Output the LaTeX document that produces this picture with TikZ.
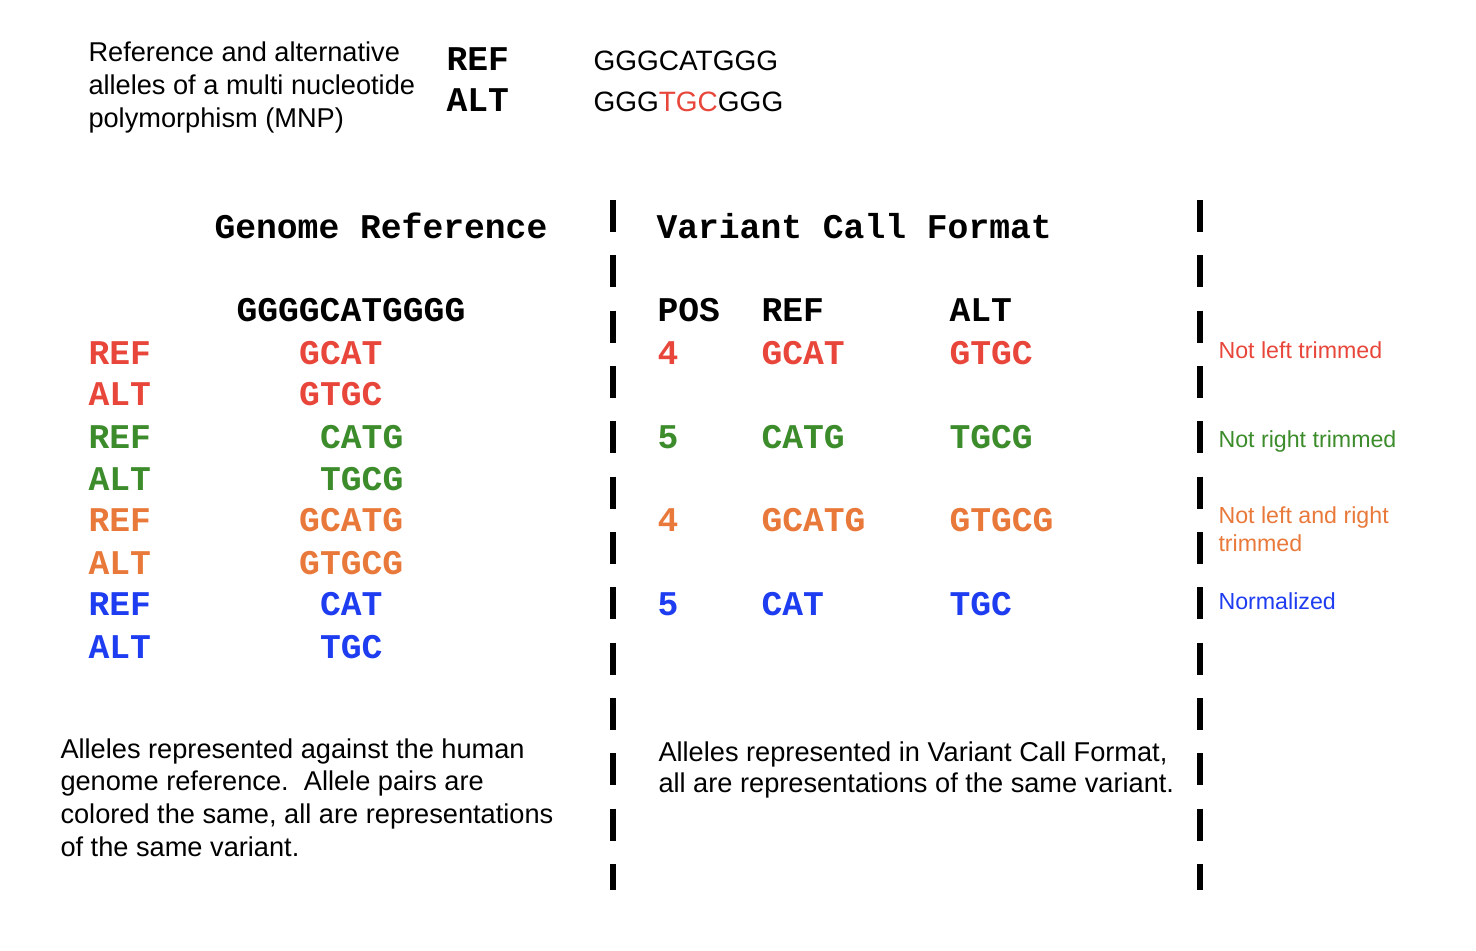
\documentclass[tikz,border=0pt]{standalone}
\usepackage{fontspec}
\setmainfont{Liberation Sans}
\setmonofont{Liberation Mono}
\definecolor{allred}{RGB}{232,70,58}
\definecolor{allgreen}{RGB}{60,140,44}
\definecolor{allorange}{RGB}{232,121,58}
\definecolor{allblue}{RGB}{30,60,240}
\newcommand{\seqfont}{\fontsize{26}{30}\selectfont\ttfamily\bfseries}
\newcommand{\txtfont}{\fontsize{20.4}{24.4}\selectfont}
\newcommand{\notefont}{\fontsize{17.4}{20.3}\selectfont}
\tikzset{every picture/.style={line width=0.75pt}}
\tikzset{seq/.style={anchor=base west,inner sep=0pt,font=\seqfont},
  txt/.style={anchor=base west,inner sep=0pt,font=\txtfont,align=left},
  note/.style={anchor=base west,inner sep=0pt,font=\notefont,align=left},
  sep/.style={line width=4.5pt,dash pattern=on 24pt off 17.5pt}}

\begin{document}
\begin{tikzpicture}[x=0.75pt,y=0.75pt,yscale=-1,xscale=1]
\useasboundingbox (0,0) rectangle (1476,950);

% Text Node
\draw (88,127) node (mnp) [txt] {Reference and alternative\\alleles of a multi nucleotide\\polymorphism (MNP)};
% Text Node
\draw (446,70) node (tref) [seq] {REF};
% Text Node
\draw (446,111) node (talt) [seq] {ALT};
% Text Node
\draw (593,70) node (trefseq) [txt,font=\fontsize{21}{24}\selectfont] {GGGCATGGG};
% Text Node
\draw (593,111) node (taltseq) [txt,font=\fontsize{21}{24}\selectfont] {GGG\textcolor{allred}{TGC}GGG};

%Straight Lines
\coordinate (sepa) at (613,200);
\coordinate (sepb) at (613,890);
\draw [sep] (sepa) -- (sepb);
%Straight Lines
\coordinate (sepc) at (1200,200);
\coordinate (sepd) at (1200,890);
\draw [sep] (sepc) -- (sepd);

% Text Node
\draw (214,238) node (genome) [seq] {Genome Reference};
% Text Node
\draw (656,238) node (vcf) [seq] {Variant Call Format};
% Text Node
\draw (236,321) node (grseq) [seq] {GGGGCATGGGG};

% Text Node
\draw (88,364) node (ref1) [seq,allred] {REF};
\draw (298.7,364) node (refseq1) [seq,allred] {GCAT};
% Text Node
\draw (88,405) node (alt1) [seq,allred] {ALT};
\draw (298.7,405) node (altseq1) [seq,allred] {GTGC};
% Text Node
\draw (88,448) node (ref2) [seq,allgreen] {REF};
\draw (319.6,448) node (refseq2) [seq,allgreen] {CATG};
% Text Node
\draw (88,490) node (alt2) [seq,allgreen] {ALT};
\draw (319.6,490) node (altseq2) [seq,allgreen] {TGCG};
% Text Node
\draw (88,531) node (ref3) [seq,allorange] {REF};
\draw (298.7,531) node (refseq3) [seq,allorange] {GCATG};
% Text Node
\draw (88,574) node (alt3) [seq,allorange] {ALT};
\draw (298.7,574) node (altseq3) [seq,allorange] {GTGCG};
% Text Node
\draw (88,615) node (ref4) [seq,allblue] {REF};
\draw (319.6,615) node (refseq4) [seq,allblue] {CAT};
% Text Node
\draw (88,658) node (alt4) [seq,allblue] {ALT};
\draw (319.6,658) node (altseq4) [seq,allblue] {TGC};

% Text Node
\draw (657,321) node (pos) [seq] {POS};
\draw (761,321) node (vref) [seq] {REF};
\draw (949,321) node (valt) [seq] {ALT};
% Text Node
\draw (657,364) node (pos1) [seq,allred] {4};
\draw (761,364) node (vref1) [seq,allred] {GCAT};
\draw (949,364) node (valt1) [seq,allred] {GTGC};
% Text Node
\draw (657,448) node (pos2) [seq,allgreen] {5};
\draw (761,448) node (vref2) [seq,allgreen] {CATG};
\draw (949,448) node (valt2) [seq,allgreen] {TGCG};
% Text Node
\draw (657,531) node (pos3) [seq,allorange] {4};
\draw (761,531) node (vref3) [seq,allorange] {GCATG};
\draw (949,531) node (valt3) [seq,allorange] {GTGCG};
% Text Node
\draw (657,615) node (pos4) [seq,allblue] {5};
\draw (761,615) node (vref4) [seq,allblue] {CAT};
\draw (949,615) node (valt4) [seq,allblue] {TGC};

% Text Node
\draw (1218,358) node (note1) [note,allred] {Not left trimmed};
% Text Node
\draw (1218,447) node (note2) [note,allgreen] {Not right trimmed};
% Text Node
\draw (1218,551) node (note3) [note,allorange] {Not left and right\\trimmed};
% Text Node
\draw (1218,609) node (note4) [note,allblue] {Normalized};

% Text Node
\draw (60,856) node (gcap) [txt] {Alleles represented against the human\\genome reference.\ \ Allele pairs are\\colored the same, all are representations\\of the same variant.};
% Text Node
\draw (658,792) node (vcap) [txt,font=\fontsize{20.4}{23.25}\selectfont] {Alleles represented in Variant Call Format,\\all are representations of the same variant.};

\end{tikzpicture}
\end{document}
